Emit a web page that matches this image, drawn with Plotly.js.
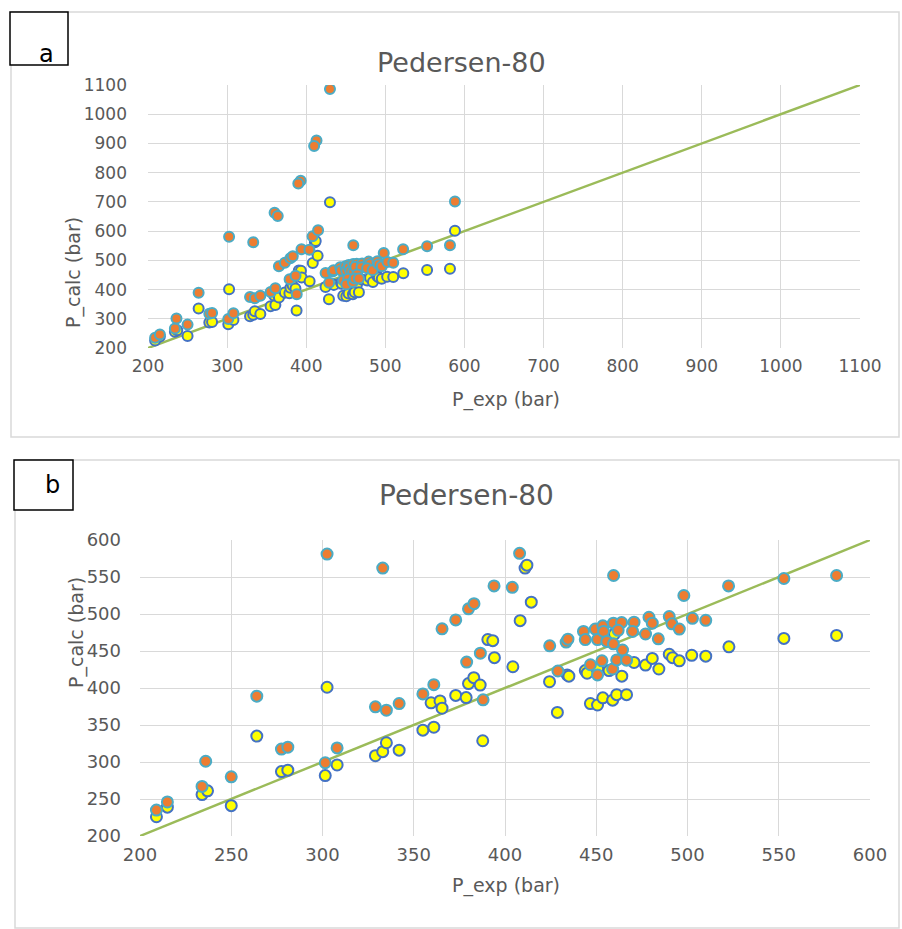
<!DOCTYPE html>
<html>
<head>
<meta charset="utf-8">
<script src="https://cdn.plot.ly/plotly-3.0.1.min.js"></script>
<style>
html,body{margin:0;padding:0;background:#fff;}
#chart{width:902px;height:929px;}
</style>
</head>
<body>
<div id="chart"></div>
<script>
// ---- data (bar) ----
const expOrange = [209, 215, 234, 236, 250, 264, 277.5, 281, 301.5, 302.5, 308, 329, 333, 335, 342, 355, 361, 365.5, 373, 379, 380, 383, 386.5, 388, 394, 404, 408, 424.5, 429, 433.5, 434.5,
  443, 444, 449.5, 450.7, 453.6, 454, 455.8, 459.4, 459.4, 463.9, 462, 470.7, 469.9, 478.9, 480.7, 477, 484, 490, 491.5, 495.5, 498, 502.7, 510, 464.4, 446.8, 453.1, 450.7, 459, 461.2, 466.6, 459.5, 522.5, 552.8, 581.7];
const calcOrange = [235, 246, 267, 301, 280, 389, 317.5, 320, 299, 581, 319, 374.5, 562, 370, 379, 392, 404.5, 480, 492, 435, 507, 514, 447, 384, 538, 536, 582, 457, 423, 462, 466,
  476.5, 465.5, 479.6, 465.5, 484, 476.5, 463, 459.7, 487.6, 488.5, 478, 489, 476.5, 495.6, 487.6, 473, 466.4, 496.5, 486.7, 479.6, 525, 494.2, 491.5, 451.3, 431.4, 436.7, 417.7, 425.7, 438, 437.6, 552, 538, 548, 552];
const expYellow = [209, 215, 234, 237, 250, 264, 277.5, 281, 301.5, 302.5, 308, 329, 333, 335, 342, 355, 361, 359.5, 364.4, 365.5, 373, 378.7, 380, 382.9, 386.4, 387.8, 390.6, 393.3, 394.2, 404.3, 408.3, 411, 412, 414.4, 424.4, 428.7,
  434.1, 435, 444, 445, 450.8, 457, 460, 464, 470.7, 477, 480.7, 484.3, 490, 491.8, 495.5, 502.3, 510, 522.7, 552.8, 581.7, 446.8, 450.7, 453.6, 459, 461.2, 466.6];
const calcYellow = [226, 239, 256, 261, 241, 335, 287, 289, 281.6, 401, 296, 308.5, 314, 326, 316, 343, 347, 380, 382.5, 372.7, 390, 387, 406, 414, 404, 328.7, 465.5, 464, 441, 428.7, 491, 562, 566, 516, 408.5, 367,
  417.7, 416, 423.5, 420, 425.7, 423.5, 473, 416, 434.5, 431, 440, 425.7, 445.6, 441, 436.7, 444.2, 443, 455.6, 467, 471, 379, 377, 386.7, 383.6, 391, 391];
// points shown only in panel a (outside the 200-600 window of panel b)
const expOrangeOut = [430, 413, 410, 393, 390, 360, 364, 588, 415];
const calcOrangeOut = [1086, 910, 891, 772, 763, 663, 652, 701, 603];
const expYellowOut = [430, 588];
const calcYellowOut = [699, 601];
// parity line y = x
const lineA = [200, 1100];
const lineB = [200, 600];
const ticksA = [200, 300, 400, 500, 600, 700, 800, 900, 1000, 1100];
const ticksB = [200, 250, 300, 350, 400, 450, 500, 550, 600];
const titleText = "Pedersen-80";
const xTitle = "P_exp (bar)";
const yTitle = "P_calc (bar)";

const W = 902, H = 929;
const px = v => v / W;
const py = v => 1 - v / H;

const orangeMk = (s) => ({size: s, color: '#ED7D31', line: {color: '#4BACC6', width: 2}});
const yellowMk = (s) => ({size: s, color: '#FFFF00', line: {color: '#4472C4', width: 2}});
const lineStyle = {color: '#9BBB59', width: 2.5};

const traces = [
  {x: lineA, y: lineA, mode: 'lines', line: lineStyle, xaxis: 'x', yaxis: 'y', hoverinfo: 'skip'},
  {x: expYellow.concat(expYellowOut), y: calcYellow.concat(calcYellowOut), mode: 'markers', marker: yellowMk(10), xaxis: 'x', yaxis: 'y'},
  {x: expOrange.concat(expOrangeOut), y: calcOrange.concat(calcOrangeOut), mode: 'markers', marker: orangeMk(10), xaxis: 'x', yaxis: 'y'},
  {x: lineB, y: lineB, mode: 'lines', line: lineStyle, xaxis: 'x2', yaxis: 'y2', hoverinfo: 'skip'},
  {x: expYellow, y: calcYellow, mode: 'markers', marker: yellowMk(11), xaxis: 'x2', yaxis: 'y2'},
  {x: expOrange, y: calcOrange, mode: 'markers', marker: orangeMk(11), xaxis: 'x2', yaxis: 'y2'}
];

const fontFam = '"DejaVu Sans", "Liberation Sans", sans-serif';
const tickFontA = {family: fontFam, size: 17, color: '#595959'};
const tickFontB = {family: fontFam, size: 18, color: '#595959'};
const axBase = {showgrid: true, gridcolor: '#D9D9D9', gridwidth: 1, zeroline: false, showline: false,
  ticks: '', tickmode: 'array', fixedrange: true};

const layout = {
  width: W, height: H,
  margin: {l: 0, r: 0, t: 0, b: 0},
  paper_bgcolor: '#fff', plot_bgcolor: '#fff',
  showlegend: false,
  xaxis: Object.assign({}, axBase, {domain: [px(148), px(860)], range: [200, 1100], tickvals: ticksA, anchor: 'y', ticklabelstandoff: 6, tickfont: tickFontA}),
  yaxis: Object.assign({}, axBase, {domain: [py(348), py(85)], range: [200, 1100], tickvals: ticksA, anchor: 'x', ticklabelstandoff: 20, tickfont: tickFontA}),
  xaxis2: Object.assign({}, axBase, {domain: [px(140), px(870)], range: [200, 600], tickvals: ticksB, anchor: 'y2', ticklabelstandoff: 6, tickfont: tickFontB}),
  yaxis2: Object.assign({}, axBase, {domain: [py(836), py(540)], range: [200, 600], tickvals: ticksB, anchor: 'x2', ticklabelstandoff: 18, tickfont: tickFontB}),
  shapes: [
    {type: 'rect', xref: 'paper', yref: 'paper', x0: px(11), x1: px(899), y0: py(437), y1: py(12), line: {color: '#D9D9D9', width: 1.5}, layer: 'below'},
    {type: 'rect', xref: 'paper', yref: 'paper', x0: px(15), x1: px(899), y0: py(928), y1: py(460), line: {color: '#D9D9D9', width: 1.5}, layer: 'below'},
    {type: 'rect', xref: 'paper', yref: 'paper', x0: px(10), x1: px(68), y0: py(65), y1: py(12), line: {color: '#000', width: 1.5}, fillcolor: '#fff'},
    {type: 'rect', xref: 'paper', yref: 'paper', x0: px(14), x1: px(73), y0: py(510), y1: py(460), line: {color: '#000', width: 1.5}, fillcolor: '#fff'}
  ],
  annotations: [
    {text: 'a', xref: 'paper', yref: 'paper', x: px(37), y: py(38), showarrow: false, font: {family: fontFam, size: 24, color: '#000'}},
    {text: 'b', xref: 'paper', yref: 'paper', x: px(43), y: py(485), showarrow: false, font: {family: fontFam, size: 24, color: '#000'}},
    {text: titleText, xref: 'paper', yref: 'paper', x: px(461), y: py(45), showarrow: false, font: {family: fontFam, size: 27, color: '#595959'}},
    {text: titleText, xref: 'paper', yref: 'paper', x: px(466), y: py(496), showarrow: false, font: {family: fontFam, size: 28, color: '#595959'}},
    {text: xTitle, xref: 'paper', yref: 'paper', x: px(506), y: py(400), showarrow: false, font: {family: fontFam, size: 19, color: '#595959'}},
    {text: yTitle, xref: 'paper', yref: 'paper', x: px(60), y: py(215), showarrow: false, textangle: -90, font: {family: fontFam, size: 19, color: '#595959'}},
    {text: xTitle, xref: 'paper', yref: 'paper', x: px(506), y: py(899), showarrow: false, font: {family: fontFam, size: 19, color: '#595959'}},
    {text: yTitle, xref: 'paper', yref: 'paper', x: px(63), y: py(690), showarrow: false, textangle: -90, font: {family: fontFam, size: 19, color: '#595959'}}
  ]
};

Plotly.newPlot('chart', traces, layout, {displayModeBar: false, staticPlot: true});
</script>
</body>
</html>
